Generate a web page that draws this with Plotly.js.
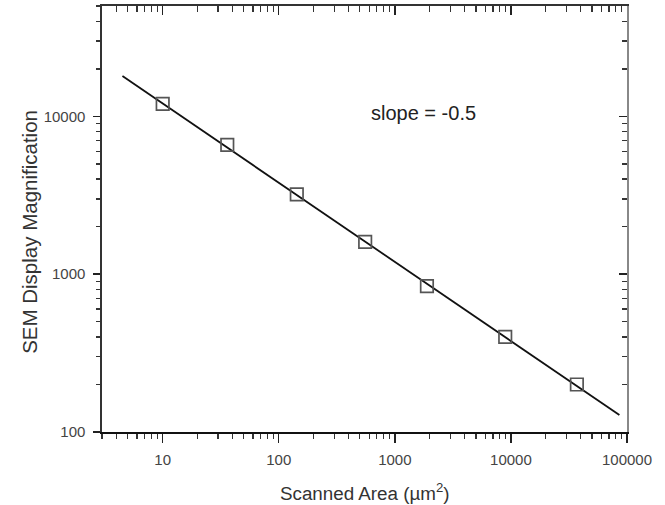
<!DOCTYPE html>
<html>
<head>
<meta charset="utf-8">
<script src="https://cdn.plot.ly/plotly-3.0.1.min.js"></script>
<style>html,body{margin:0;padding:0;background:#fff;}#chart{width:665px;height:505px;}</style>
</head>
<body>
<div id="chart"></div>
<script>
// Measured data points (scanned area in µm², SEM display magnification)
const scannedArea = [10, 36, 143, 555, 1890, 8930, 37000];
const magnification = [12000, 6600, 3200, 1600, 840, 400, 200];
// Fitted power-law line (slope = -0.5 on log-log axes), endpoints
const fitArea = [4.5, 86000];
const fitMag = [18000, 128];
// Tick values / labels
const xTickVals = [10, 100, 1000, 10000, 100000];
const xTickText = ["10", "100", "1000", "10000", "100000"];
const yTickVals = [100, 1000, 10000];
const yTickText = ["100", "1000", "10000"];
const slopeLabel = "slope = -0.5";
const xTitle = "Scanned Area (\u00b5m<sup>2</sup>)";
const yTitle = "SEM Display Magnification";

const FONT = "Liberation Sans, Arial, Helvetica, sans-serif";
const xRange = [Math.log10(3), 5];
const yRange = [2, Math.log10(50000)];

const traces = [
  {
    x: fitArea, y: fitMag, mode: "lines", type: "scatter",
    line: {color: "#111", width: 1.8}, hoverinfo: "skip", showlegend: false
  },
  {
    x: scannedArea, y: magnification, mode: "markers", type: "scatter",
    marker: {symbol: "square-open", size: 12.5, color: "#555", line: {width: 1.7, color: "#555"}},
    showlegend: false
  },
  {
    x: scannedArea, y: magnification, xaxis: "x2", yaxis: "y2", mode: "markers", type: "scatter",
    marker: {opacity: 0}, hoverinfo: "skip", showlegend: false
  }
];

const commonMinor = {dtick: "D1", showgrid: false};

const layout = {
  width: 665, height: 505,
  margin: {l: 102, r: 38, t: 6, b: 73},
  paper_bgcolor: "#fff", plot_bgcolor: "#fff",
  showlegend: false,
  font: {family: FONT, color: "#333"},
  xaxis: {
    type: "log", range: xRange, dtick: 1,
    tickvals: xTickVals, ticktext: xTickText,
    showgrid: false, zeroline: false,
    showline: true, linecolor: "#111", linewidth: 1.6,
    ticks: "outside", ticklen: 9, tickwidth: 1.4, tickcolor: "#222",
    minor: Object.assign({ticks: "outside", ticklen: 5, tickwidth: 1.2, tickcolor: "#333"}, commonMinor),
    tickfont: {family: FONT, size: 15, color: "#444"},
    ticklabelstandoff: 4
  },
  yaxis: {
    type: "log", range: yRange, dtick: 1,
    tickvals: yTickVals, ticktext: yTickText,
    showgrid: false, zeroline: false,
    showline: true, linecolor: "#333", linewidth: 1.6,
    ticks: "outside", ticklen: 7, tickwidth: 1.4, tickcolor: "#222",
    minor: Object.assign({ticks: "outside", ticklen: 4, tickwidth: 1.4, tickcolor: "#333"}, commonMinor),
    tickfont: {family: FONT, size: 15, color: "#444"},
    ticklabelstandoff: 5
  },
  xaxis2: {
    type: "log", range: xRange, dtick: 1, overlaying: "x", side: "top", anchor: "y",
    tickvals: xTickVals, showticklabels: false,
    showgrid: false, zeroline: false,
    showline: true, linecolor: "#333", linewidth: 1.6,
    ticks: "inside", ticklen: 9, tickwidth: 1.4, tickcolor: "#222",
    minor: Object.assign({ticks: "inside", ticklen: 6, tickwidth: 1.2, tickcolor: "#333"}, commonMinor)
  },
  yaxis2: {
    type: "log", range: yRange, dtick: 1, overlaying: "y", side: "right", anchor: "x",
    tickvals: yTickVals, showticklabels: false,
    showgrid: false, zeroline: false,
    showline: true, linecolor: "#888", linewidth: 2,
    ticks: "inside", ticklen: 8, tickwidth: 1.4, tickcolor: "#222",
    minor: Object.assign({ticks: "inside", ticklen: 5, tickwidth: 1.4, tickcolor: "#333"}, commonMinor)
  },
  annotations: [
    {
      text: slopeLabel, xref: "paper", yref: "paper",
      x: 0.613, y: 0.748, xanchor: "center", yanchor: "middle",
      showarrow: false, font: {family: FONT, size: 20, color: "#222"}
    },
    {
      text: xTitle, xref: "paper", yref: "paper",
      x: 0.5, y: -0.1415, xanchor: "center", yanchor: "middle",
      showarrow: false, font: {family: FONT, size: 18.8, color: "#333"}
    },
    {
      text: yTitle, xref: "paper", yref: "paper", textangle: -90,
      x: -0.137, y: 0.47, xanchor: "center", yanchor: "middle",
      showarrow: false, font: {family: FONT, size: 20.5, color: "#333"}
    }
  ]
};

Plotly.newPlot("chart", traces, layout, {staticPlot: true, displayModeBar: false});
</script>
</body>
</html>
